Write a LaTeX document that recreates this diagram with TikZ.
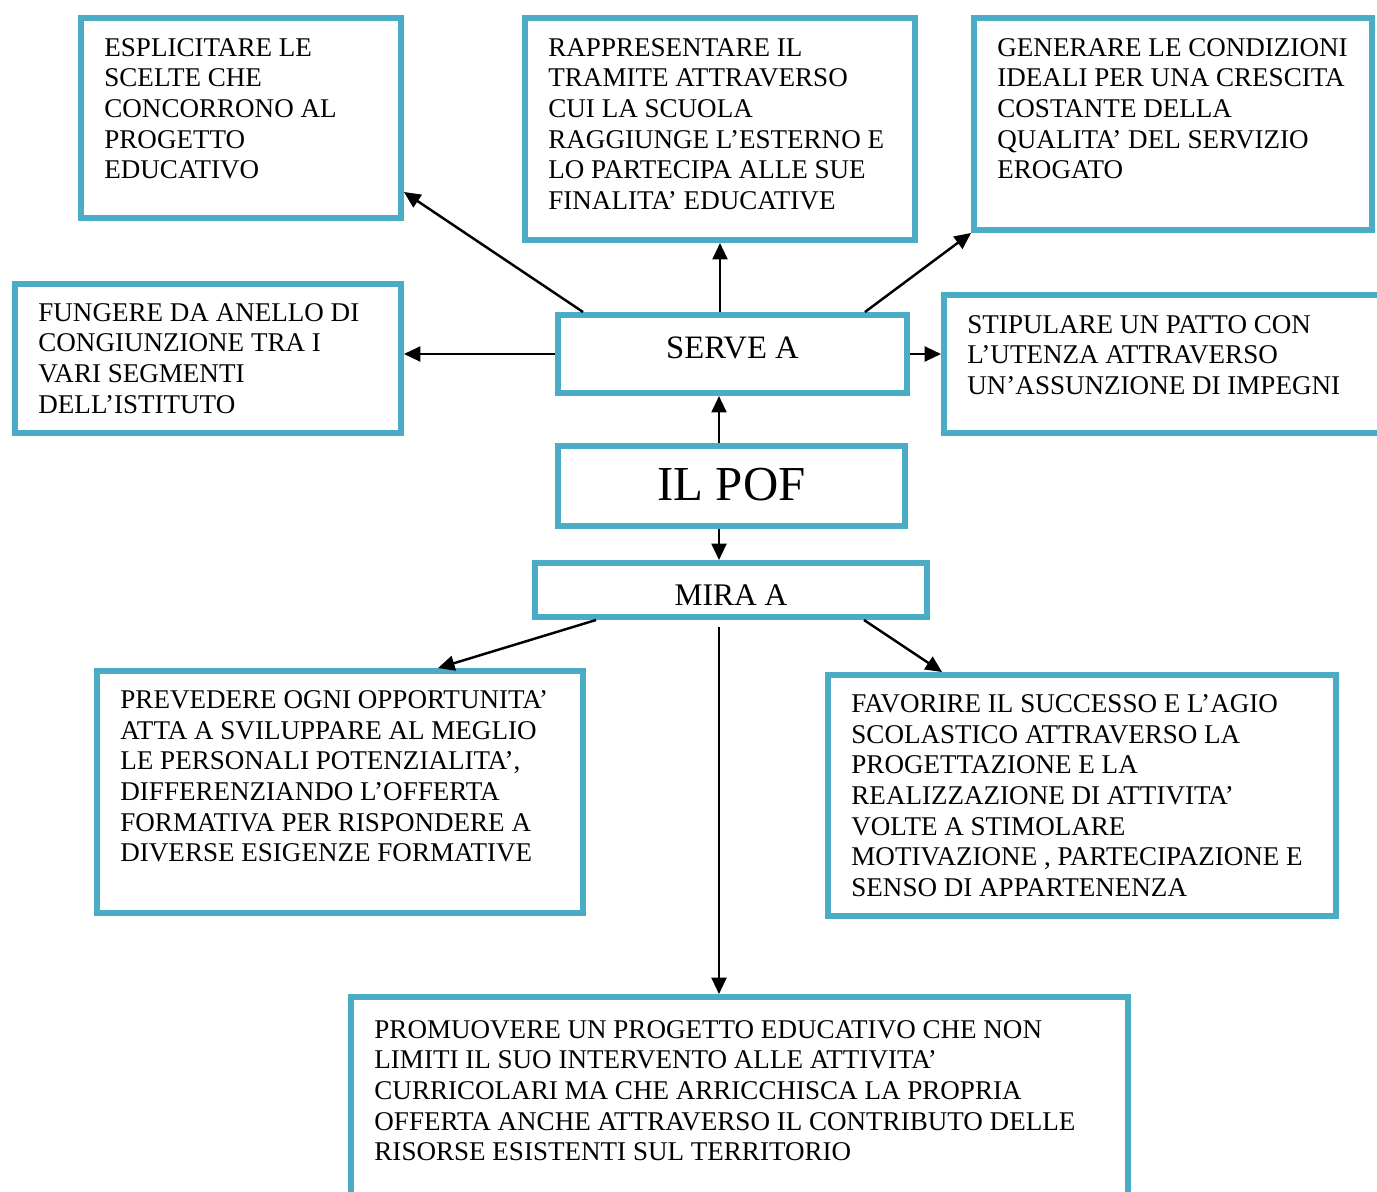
\documentclass[tikz,border=0pt]{standalone}
\usepackage{fontspec}
\setmainfont{Liberation Serif}
\usetikzlibrary{arrows.meta}
\definecolor{pofblue}{HTML}{4BACC6}

\begin{document}
\begin{tikzpicture}[x=0.02cm,y=-0.02cm,
  box/.style={draw=pofblue,line width=3.4pt,rectangle,inner sep=0pt},
  txt/.style={anchor=north west,align=left,inner sep=0pt,font=\fontsize{15.4pt}{17.45pt}\selectfont},
  lbl/.style={anchor=base,inner sep=0pt,font=\fontsize{18.6pt}{20pt}\selectfont},
  arr/.style={-{Triangle[length=0.33cm,width=0.3cm]},line width=1.4pt}]
\useasboundingbox (0,0) rectangle (1377,1191);
\clip (0,0) rectangle (1377,1191);
% Vertical axis through the central boxes.
\coordinate (spine) at (719,0);
% Upper row of aims.
\node[box,minimum width=6.4cm,minimum height=4cm] (esp) at (241,118) {};
\node[box,minimum width=7.8cm,minimum height=4.44cm] (rap) at (720,129) {};
\node[box,minimum width=7.96cm,minimum height=4.24cm] (gen) at (1173,124) {};
% Middle row and central boxes.
\node[box,minimum width=7.72cm,minimum height=2.98cm] (fun) at (208,358.5) {};
\node[box,minimum width=6.98cm,minimum height=1.56cm] (serve) at (732.5,354) {};
\node[box,minimum width=9.12cm,minimum height=2.76cm] (sti) at (1172,364) {};
\node[box,minimum width=6.94cm,minimum height=1.6cm] (pof) at (731.5,486) {};
\node[box,minimum width=7.84cm,minimum height=1.08cm] (mira) at (731,590) {};
% Lower row.
\node[box,minimum width=9.72cm,minimum height=4.84cm] (prev) at (340,792) {};
\node[box,minimum width=10.16cm,minimum height=4.82cm] (fav) at (1082,795.5) {};
\node[box,minimum width=15.54cm,minimum height=4.86cm] (prom) at (739.5,1118.5) {};
% Texts, set from the top left corner of each box.
\node[txt] (esptxt) at ([shift={(26,23)}]esp.north west) {ESPLICITARE LE\\SCELTE CHE\\CONCORRONO AL\\PROGETTO\\EDUCATIVO};
\node[txt] (raptxt) at ([shift={(26,23)}]rap.north west) {RAPPRESENTARE IL\\TRAMITE ATTRAVERSO\\CUI LA SCUOLA\\RAGGIUNGE L’ESTERNO E\\LO PARTECIPA ALLE SUE\\FINALITA’ EDUCATIVE};
\node[txt] (gentxt) at ([shift={(26,23)}]gen.north west) {GENERARE LE CONDIZIONI\\IDEALI PER UNA CRESCITA\\COSTANTE DELLA\\QUALITA’ DEL SERVIZIO\\EROGATO};
\node[txt] (funtxt) at ([shift={(26,22)}]fun.north west) {FUNGERE DA ANELLO DI\\CONGIUNZIONE TRA I\\VARI SEGMENTI\\DELL’ISTITUTO};
\node[txt] (stitxt) at ([shift={(26,23)}]sti.north west) {STIPULARE UN PATTO CON\\L’UTENZA ATTRAVERSO\\UN’ASSUNZIONE DI IMPEGNI};
\node[txt] (prevtxt) at ([shift={(26,22)}]prev.north west) {PREVEDERE OGNI OPPORTUNITA’\\ATTA A SVILUPPARE AL MEGLIO\\LE PERSONALI POTENZIALITA’,\\DIFFERENZIANDO L’OFFERTA\\FORMATIVA PER RISPONDERE A\\DIVERSE ESIGENZE FORMATIVE};
\node[txt] (favtxt) at ([shift={(26,22)}]fav.north west) {FAVORIRE IL SUCCESSO E L’AGIO\\SCOLASTICO ATTRAVERSO LA\\PROGETTAZIONE E LA\\REALIZZAZIONE DI ATTIVITA’\\VOLTE A STIMOLARE\\MOTIVAZIONE , PARTECIPAZIONE E\\SENSO DI APPARTENENZA};
\node[txt] (promtxt) at ([shift={(26,26)}]prom.north west) {PROMUOVERE UN PROGETTO EDUCATIVO CHE NON\\LIMITI IL SUO INTERVENTO ALLE ATTIVITA’\\CURRICOLARI MA CHE ARRICCHISCA LA PROPRIA\\OFFERTA ANCHE ATTRAVERSO IL CONTRIBUTO DELLE\\RISORSE ESISTENTI SUL TERRITORIO};
\node[lbl] (servetxt) at ([shift={(0,4.3)}]serve.center) {SERVE A};
\node[lbl,font=\fontsize{27.8pt}{30pt}\selectfont] (poftxt) at ([shift={(0,14.7)}]pof.center) {IL POF};
\node[lbl,font=\fontsize{17.9pt}{20pt}\selectfont] (miratxt) at ([shift={(0,15)}]mira.center) {MIRA A};
% Connectors.
\draw[arr] ([shift={(28,0)}]serve.north west) -- ([shift={(0,-29)}]esp.south east);
\draw[arr] (rap.south |- serve.north) -- (rap.south);
\draw[arr] ([shift={(-45,0)}]serve.north east) -- (gen.south west);
\draw[arr] (serve.west) -- (serve.west -| fun.east);
\draw[arr] (serve.east) -- (serve.east -| sti.west);
\draw[arr] (spine |- pof.north) -- (spine |- serve.south);
\draw[arr] (spine |- pof.south) -- (spine |- mira.north);
\draw[arr] ([shift={(64,0)}]mira.south west) -- ([shift={(344,0)}]prev.north west);
\draw[arr] (spine |- mira.south) ++(0,7) -- (spine |- prom.north);
\draw[arr] ([shift={(-66,0)}]mira.south east) -- ([shift={(117,0)}]fav.north west);
\end{tikzpicture}
\end{document}
